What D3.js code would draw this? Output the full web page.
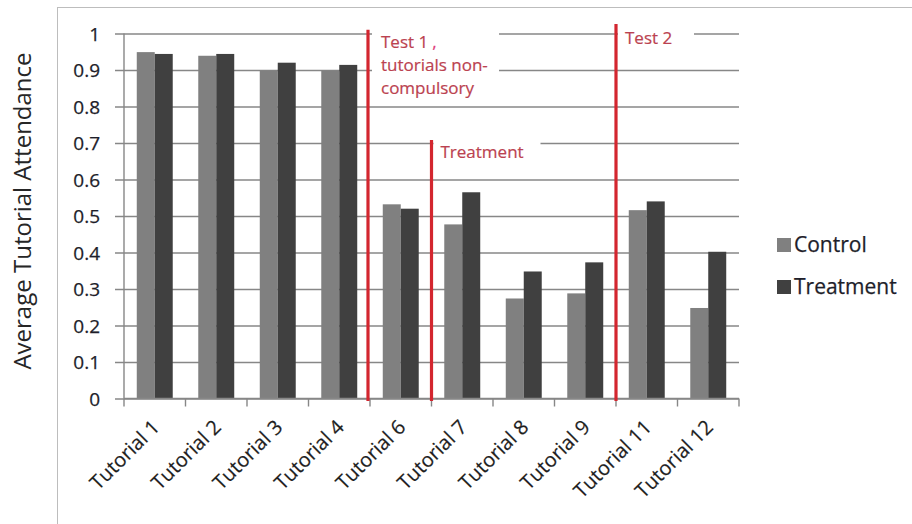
<!DOCTYPE html>
<html>
<head>
<meta charset="utf-8">
<script src="https://cdn.jsdelivr.net/npm/d3@7/dist/d3.min.js"></script>
<style>
  html, body { margin: 0; padding: 0; background: #fff; }
  svg { display: block; font-family: "Open Sans", sans-serif; }
</style>
</head>
<body>
<svg id="chart" width="912" height="524"></svg>
<script>
// Average attendance per tutorial, control vs treatment group
const tutorials = ["Tutorial 1", "Tutorial 2", "Tutorial 3", "Tutorial 4", "Tutorial 6",
                   "Tutorial 7", "Tutorial 8", "Tutorial 9", "Tutorial 11", "Tutorial 12"];
const seriesNames = ["Control", "Treatment"];
const controlValues   = [0.949, 0.939, 0.899, 0.899, 0.532, 0.477, 0.274, 0.288, 0.516, 0.248];
const treatmentValues = [0.944, 0.944, 0.920, 0.914, 0.520, 0.565, 0.348, 0.373, 0.540, 0.402];
const yTicks = [0, 0.1, 0.2, 0.3, 0.4, 0.5, 0.6, 0.7, 0.8, 0.9, 1];
const yTickLabels = ["0", "0.1", "0.2", "0.3", "0.4", "0.5", "0.6", "0.7", "0.8", "0.9", "1"];
const yTitle = "Average Tutorial Attendance";

// Event markers: drawn before the named tutorial, reaching up to the given value
const markerBefore = ["Tutorial 6", "Tutorial 7", "Tutorial 11"];
const markerTop    = [1.01, 0.708, 1.026];
const markerLines  = [["Test 1", "tutorials non-", "compulsory"], ["Treatment"], ["Test 2"]];

const colors = { Control: "#808080", Treatment: "#404040" };
const gridColor = "#878787";
const markerColor = "#d3262f";
const markerText = "#bb4250";

const svg = d3.select("#chart");

// chart frame
svg.append("rect")
  .attr("x", 57.5).attr("y", 7.5).attr("width", 900).attr("height", 560)
  .attr("fill", "none").attr("stroke", "#bdbdbd").attr("stroke-width", 1);

const plot = { left: 124, right: 739, top: 33.5, bottom: 398.5 };

const x0 = d3.scaleBand().domain(tutorials).range([plot.left, plot.right]).padding(0);
const x1 = d3.scaleBand().domain(seriesNames).range([0, x0.bandwidth()])
  .paddingInner(0).paddingOuter(0.71);
const y = d3.scaleLinear().domain([0, 1]).range([plot.bottom, plot.top]);

// horizontal gridlines with short ticks left of the axis
const yAxis = d3.axisLeft(y).tickValues(yTicks)
  .tickSize(-(plot.right - plot.left)).tickSizeOuter(0)
  .tickFormat((d, i) => yTickLabels[i]);
const gy = svg.append("g").attr("transform", `translate(${plot.left},0)`).call(yAxis);
gy.select(".domain").remove();
gy.selectAll(".tick line")
  .attr("x1", -9).attr("stroke", gridColor).attr("stroke-width", 1.4);
gy.selectAll(".tick text")
  .attr("x", -24).attr("dy", "0.35em")
  .attr("fill", "#1e1e2a")
  .attr("stroke", "#1e1e2a").attr("stroke-width", 0.25)
  .style("font-size", "19px").style("font-family", "'Open Sans', sans-serif");

// bars
const rows = tutorials.map((t, i) => ({ t, vals: [controlValues[i], treatmentValues[i]] }));
const groups = svg.append("g").selectAll("g").data(rows).join("g")
  .attr("transform", d => `translate(${x0(d.t)},0)`);
groups.selectAll("rect")
  .data(d => d.vals.map((v, k) => ({ key: seriesNames[k], v })))
  .join("rect")
  .attr("x", d => x1(d.key))
  .attr("width", x1.bandwidth())
  .attr("y", d => y(d.v))
  .attr("height", d => y(0) - y(d.v))
  .attr("fill", d => colors[d.key]);

// vertical axis line
svg.append("line")
  .attr("x1", plot.left).attr("x2", plot.left)
  .attr("y1", y(1)).attr("y2", y(0))
  .attr("stroke", gridColor).attr("stroke-width", 1.4);

// category axis: ticks on band boundaries
const boundaries = tutorials.map(t => x0(t)).concat([x0.range()[1]]);
const gx = svg.append("g");
gx.append("line")
  .attr("x1", plot.left).attr("x2", plot.right)
  .attr("y1", y(0)).attr("y2", y(0))
  .attr("stroke", gridColor).attr("stroke-width", 1.4);
gx.selectAll("line.tk").data(boundaries).join("line").attr("class", "tk")
  .attr("x1", d => d).attr("x2", d => d)
  .attr("y1", y(0)).attr("y2", y(0) + 8)
  .attr("stroke", gridColor).attr("stroke-width", 1.4);
gx.selectAll("text").data(tutorials).join("text")
  .attr("transform", d => `translate(${x0(d) + x0.bandwidth() / 2 + 6},${y(0) + 30}) rotate(-45)`)
  .attr("text-anchor", "end")
  .attr("fill", "#1e1e1e")
  .attr("stroke", "#1e1e1e").attr("stroke-width", 0.2)
  .style("font-size", "20px")
  .text(d => d);

// event markers with their labels on white backing
const markers = markerBefore.map((t, i) => ({ x: x0(t), top: markerTop[i], lines: markerLines[i] }));
const backs = [
  { w: 127, y0: 18, h: 84 },
  { w: 107, y0: 128, h: 38 },
  { w: 76, y0: 20, h: 40 }
];
const mg = svg.append("g").selectAll("g").data(markers).join("g");
mg.append("rect")
  .attr("x", d => d.x + 2)
  .attr("y", (d, i) => backs[i].y0)
  .attr("width", (d, i) => backs[i].w)
  .attr("height", (d, i) => backs[i].h)
  .attr("fill", "#fff");
mg.append("line")
  .attr("x1", (d, i) => d.x - (i === 0 ? 2 : 0)).attr("x2", (d, i) => d.x - (i === 0 ? 2 : 0))
  .attr("y1", d => y(d.top)).attr("y2", y(0) + 2.5)
  .attr("stroke", markerColor).attr("stroke-width", 3.2);
const labelBase = [48, 157.5, 44];
mg.each(function (d, i) {
  const txt = d3.select(this).append("text")
    .attr("fill", markerText)
    .attr("stroke", markerText).attr("stroke-width", 0.2)
    .style("font-size", "17px");
  d.lines.forEach((ln, k) => {
    txt.append("tspan")
      .attr("x", d.x + (i === 0 ? 11 : 9))
      .attr("y", labelBase[i] + k * 23)
      .text(ln);
  });
  if (i === 0) {
    txt.select("tspan").append("tspan")
      .attr("fill", "#e0407a").attr("stroke", "#e0407a").attr("dx", 4).text(",");
  }
});

// legend
const lg = svg.append("g").selectAll("g").data(seriesNames).join("g")
  .attr("transform", (d, i) => `translate(777,${238 + i * 42})`);
lg.append("rect").attr("width", 14).attr("height", 14).attr("fill", d => colors[d]);
lg.append("text")
  .attr("x", 17).attr("y", 14)
  .attr("fill", "#1e1e2a")
  .attr("stroke", "#1e1e2a").attr("stroke-width", 0.25)
  .style("font-size", "21px")
  .text(d => d);

// y-axis title
svg.append("text")
  .attr("transform", `translate(31,211) rotate(-90)`)
  .attr("text-anchor", "middle")
  .attr("fill", "#262626")
  .style("font-size", "24px")
  .text(yTitle);
</script>
</body>
</html>
